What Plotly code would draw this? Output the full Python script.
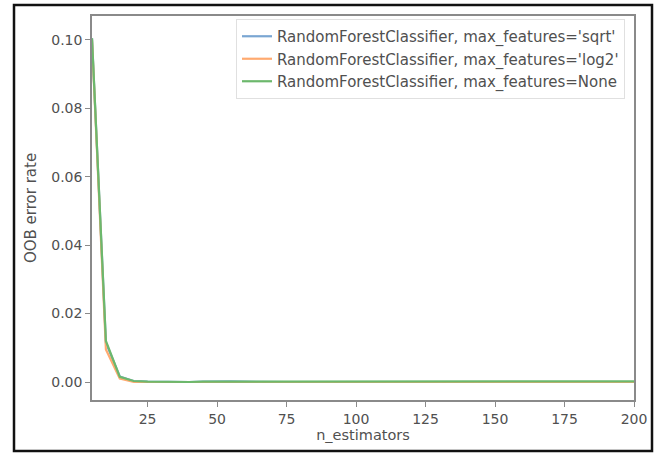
import plotly.graph_objects as go

n_estimators = [5, 10, 15, 20, 25, 30, 35, 40, 45, 50, 55, 60, 65, 70, 75, 80, 85, 90, 95, 100,
                105, 110, 115, 120, 125, 130, 135, 140, 145, 150, 155, 160, 165, 170, 175, 180,
                185, 190, 195, 200]

err_sqrt = [0.1005, 0.0115, 0.0016, 0.0003, 0.0001, 0.0, 0.0, 0.0, 0.0001, 0.0002, 0.0002, 0.0001,
            0.0, 0.0, 0.0, 0.0, 0.0, 0.0, 0.0, 0.0, 0.0, 0.0, 0.0, 0.0, 0.0, 0.0, 0.0, 0.0,
            0.0, 0.0, 0.0, 0.0, 0.0, 0.0, 0.0, 0.0, 0.0, 0.0, 0.0, 0.0]
err_log2 = [0.1000, 0.0095, 0.0010, 0.0, 0.0, 0.0, 0.0, 0.0, 0.0, 0.0001, 0.0001, 0.0,
            0.0, 0.0, 0.0, 0.0, 0.0, 0.0, 0.0, 0.0, 0.0, 0.0, 0.0, 0.0, 0.0, 0.0, 0.0, 0.0,
            0.0, 0.0, 0.0, 0.0, 0.0, 0.0, 0.0, 0.0, 0.0, 0.0, 0.0, 0.0]
err_none = [0.1005, 0.0120, 0.0015, 0.0003, 0.0001, 0.0, 0.0, 0.0, 0.0001, 0.0001, 0.0001, 0.0,
            0.0, 0.0, 0.0, 0.0, 0.0, 0.0, 0.0, 0.0, 0.0, 0.0, 0.0, 0.0, 0.0, 0.0, 0.0, 0.0,
            0.0, 0.0, 0.0, 0.0, 0.0, 0.0, 0.0002, 0.0002, 0.0002, 0.0002, 0.0002, 0.0002]

series_names = ["RandomForestClassifier, max_features='sqrt'",
                "RandomForestClassifier, max_features='log2'",
                "RandomForestClassifier, max_features=None"]
series_colors = ["#7aa6d2", "#ffaa70", "#6cb86c"]

x_ticks = [25, 50, 75, 100, 125, 150, 175, 200]
y_ticks = [0.00, 0.02, 0.04, 0.06, 0.08, 0.10]

fig = go.Figure()
for name, ys, col in zip(series_names, [err_sqrt, err_log2, err_none], series_colors):
    fig.add_trace(go.Scatter(x=n_estimators, y=ys, mode="lines", name=name,
                             line=dict(color=col, width=2.2)))

W, H = 660, 453
L, R, T, B = 92, 634, 16, 400
pw, ph = R - L, B - T

def px(x):
    return (x - L) / pw

def py(y):
    return (B - y) / ph

TXT = "#505050"
axis_common = dict(showline=True, linecolor="#8a8a8a", linewidth=1.5, mirror=True,
                   ticks="outside", ticklen=5, tickcolor="#8a8a8a", tickwidth=1.2,
                   showgrid=False, zeroline=False,
                   tickfont=dict(family="DejaVu Sans", size=14, color=TXT))

fig.update_layout(
    width=W, height=H,
    margin=dict(l=L, r=W - R, t=T, b=H - B),
    paper_bgcolor="white", plot_bgcolor="white",
    font=dict(family="DejaVu Sans", size=12, color=TXT),
    xaxis=dict(range=[5, 200], tickvals=x_ticks,
               title=dict(text="n_estimators", standoff=2,
                          font=dict(family="DejaVu Sans", size=14.5, color=TXT)),
               **axis_common),
    yaxis=dict(range=[-0.00526, 0.1070], tickvals=y_ticks, tickformat=".2f",
               title=dict(text="OOB error rate", standoff=11,
                          font=dict(family="DejaVu Sans", size=15, color=TXT)),
               **axis_common),
    legend=dict(x=px(625), y=py(19), xanchor="right", yanchor="top",
                bgcolor="rgba(255,255,255,0.9)", bordercolor="#e0e0e0", borderwidth=1,
                font=dict(family="DejaVu Sans", size=15, color=TXT),
                tracegroupgap=0, itemwidth=30),
    showlegend=True,
    shapes=[dict(type="rect", xref="paper", yref="paper",
                 x0=px(14), x1=px(652), y0=py(451), y1=py(5),
                 line=dict(color="#111111", width=2.5), fillcolor="rgba(0,0,0,0)", layer="above")],
)

fig.write_html("out.html", config={"displayModeBar": False},
               post_script="document.body.style.margin='0';document.body.style.overflow='hidden';")
